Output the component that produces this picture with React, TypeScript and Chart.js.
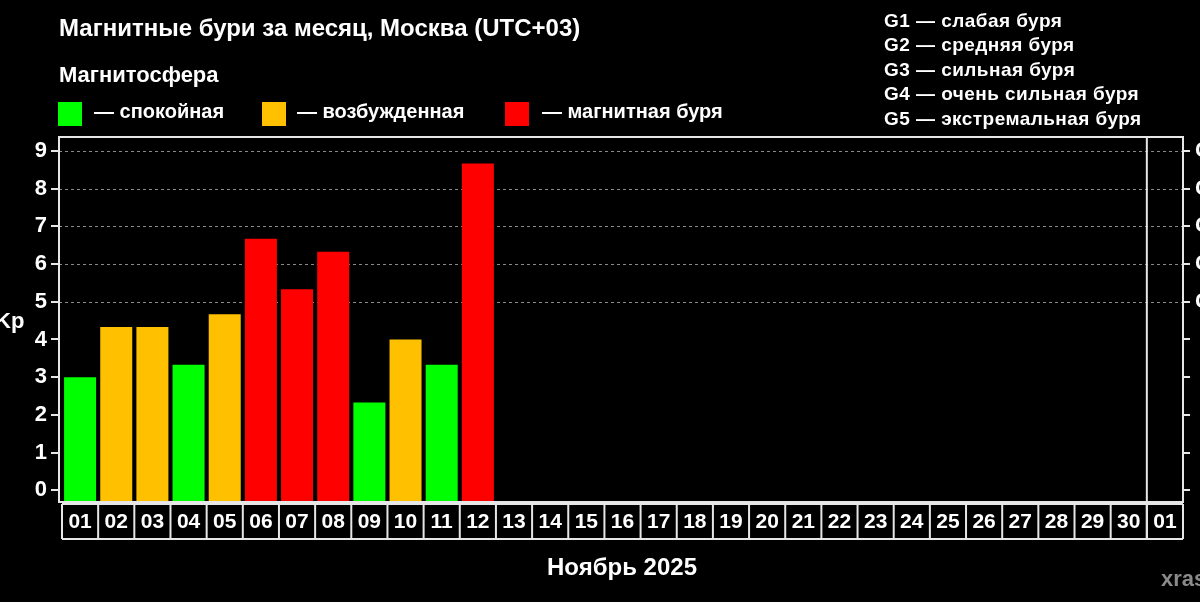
import { useEffect, useRef } from 'react';
import { Chart, registerables } from 'chart.js';

Chart.register(...registerables);

// дни месяца (последний — 1 декабря)
const days = [
  '01', '02', '03', '04', '05', '06', '07', '08', '09', '10',
  '11', '12', '13', '14', '15', '16', '17', '18', '19', '20',
  '21', '22', '23', '24', '25', '26', '27', '28', '29', '30', '01',
];

// максимальный Kp за сутки
const kpMax: (number | null)[] = [
  3.0, 4.33, 4.33, 3.33, 4.67, 6.67, 5.33, 6.33, 2.33, 4.0, 3.33, 8.67,
  null, null, null, null, null, null, null, null, null, null,
  null, null, null, null, null, null, null, null, null,
];

const stormLabels = ['G1', 'G2', 'G3', 'G4', 'G5'];
const stormLegend = [
  'G1 — слабая буря',
  'G2 — средняя буря',
  'G3 — сильная буря',
  'G4 — очень сильная буря',
  'G5 — экстремальная буря',
];

const Y_MIN = -0.31;
const Y_MAX = 9.37;

const GREEN = '#00ff00';
const ORANGE = '#ffc000';
const RED = '#ff0000';

function kpColor(v: number | null) {
  if (v == null) return 'transparent';
  if (v >= 5) return RED;
  if (v >= 4) return ORANGE;
  return GREEN;
}

const FONT = '"Liberation Sans", Arial, sans-serif';

const framePlugin = {
  id: 'framePlugin',
  beforeDatasetsDraw(chart: any) {
    const { ctx, chartArea } = chart;
    const y = chart.scales.y;
    ctx.save();
    ctx.strokeStyle = '#8a8a8a';
    ctx.lineWidth = 1;
    ctx.setLineDash([3, 3]);
    for (let v = 5; v <= 9; v++) {
      const py = Math.round(y.getPixelForValue(v)) + 0.5;
      ctx.beginPath();
      ctx.moveTo(chartArea.left - 3, py);
      ctx.lineTo(chartArea.right, py);
      ctx.stroke();
    }
    ctx.restore();
  },
  afterDraw(chart: any) {
    const { ctx, chartArea } = chart;
    const x = chart.scales.x;
    const y = chart.scales.y;
    const left = chartArea.left - 3;
    const half = (x.getPixelForTick(1) - x.getPixelForTick(0)) / 2;
    const boxTop = chartArea.bottom + 2;
    const boxBottom = chartArea.bottom + 37;
    ctx.save();
    ctx.strokeStyle = '#e6e6e6';
    ctx.lineWidth = 2;
    // рамка графика
    ctx.strokeRect(left, chartArea.top, chartArea.right - left, chartArea.bottom - chartArea.top);
    // засечки слева и справа
    for (let v = 0; v <= 9; v++) {
      const py = Math.round(y.getPixelForValue(v));
      ctx.beginPath();
      ctx.moveTo(left - 8, py);
      ctx.lineTo(left, py);
      ctx.moveTo(chartArea.right, py);
      ctx.lineTo(chartArea.right + 7, py);
      ctx.stroke();
    }
    // ячейки подписей дней
    const first = x.getPixelForTick(0) - half;
    ctx.beginPath();
    ctx.moveTo(first, boxBottom);
    ctx.lineTo(chartArea.right, boxBottom);
    ctx.moveTo(first, boxTop);
    ctx.lineTo(chartArea.right, boxTop);
    for (let i = 0; i <= days.length; i++) {
      const px = i < days.length ? x.getPixelForTick(i) - half : chartArea.right;
      ctx.moveTo(px, boxTop);
      ctx.lineTo(px, boxBottom);
    }
    ctx.stroke();
    // граница месяца
    const sep = x.getPixelForTick(days.length - 1) - half;
    ctx.beginPath();
    ctx.moveTo(sep, chartArea.top);
    ctx.lineTo(sep, boxBottom);
    ctx.stroke();
    ctx.restore();
  },
};

function KpChart() {
  const canvasRef = useRef<HTMLCanvasElement>(null);

  useEffect(() => {
    if (!canvasRef.current) return;
    const chart = new Chart(canvasRef.current, {
      type: 'bar',
      data: {
        labels: days,
        datasets: [
          {
            data: kpMax,
            base: Y_MIN,
            backgroundColor: kpMax.map(kpColor),
            borderWidth: 0,
            categoryPercentage: 1,
            barPercentage: 0.885,
          } as any,
        ],
      },
      options: {
        responsive: true,
        maintainAspectRatio: false,
        animation: false,
        layout: { padding: { top: 137, left: 0, right: 0, bottom: 0 } },
        plugins: {
          legend: { display: false },
          tooltip: { enabled: false },
        },
        scales: {
          x: {
            position: 'bottom',
            grid: { display: false, drawTicks: false },
            border: { display: false },
            ticks: {
              color: '#ffffff',
              font: { family: FONT, size: 21, weight: 'bold' },
              padding: 8,
              autoSkip: false,
              maxRotation: 0,
            },
            afterFit: (scale: any) => {
              scale.height = 100;
            },
          },
          y: {
            position: 'left',
            min: Y_MIN,
            max: Y_MAX,
            grid: { display: false, drawTicks: false },
            border: { display: false },
            ticks: {
              stepSize: 1,
              includeBounds: false,
              color: '#ffffff',
              font: { family: FONT, size: 22, weight: 'bold' },
              padding: 15,
              callback: (v: any) => (Number.isInteger(v) ? String(v) : ''),
            },
            afterFit: (scale: any) => {
              scale.width = 62;
            },
          },
          y1: {
            position: 'right',
            min: Y_MIN,
            max: Y_MAX,
            grid: { display: false, drawTicks: false },
            border: { display: false },
            ticks: {
              stepSize: 1,
              includeBounds: false,
              color: '#ffffff',
              font: { family: FONT, size: 22, weight: 'bold' },
              padding: 12,
              callback: (v: any) => (v >= 5 && v <= 9 ? stormLabels[v - 5] : ''),
            },
            afterFit: (scale: any) => {
              scale.width = 17;
            },
          },
        },
      } as any,
      plugins: [framePlugin],
    });
    return () => chart.destroy();
  }, []);

  return <canvas ref={canvasRef} />;
}

const txt = (extra: React.CSSProperties): React.CSSProperties => ({
  position: 'absolute',
  margin: 0,
  fontFamily: FONT,
  fontWeight: 'bold',
  color: '#ffffff',
  whiteSpace: 'nowrap',
  lineHeight: 1,
  ...extra,
});

const swatch = (left: number, color: string): React.CSSProperties => ({
  position: 'absolute',
  left,
  top: 102,
  width: 24,
  height: 24,
  background: color,
});

export default function App() {
  return (
    <div
      style={{
        position: 'fixed',
        left: 0,
        top: 0,
        width: 1200,
        height: 602,
        background: '#000000',
        overflow: 'hidden',
      }}
    >
      <div style={{ position: 'absolute', left: 0, top: 0, width: 1200, height: 602 }}>
        <KpChart />
      </div>
      <div style={txt({ left: 59, top: 16, fontSize: 24 })}>
        Магнитные бури за месяц, Москва (UTC+03)
      </div>
      <div style={txt({ left: 59, top: 64, fontSize: 22 })}>Магнитосфера</div>
      <div style={swatch(58, GREEN)} />
      <div style={txt({ left: 94, top: 101, fontSize: 20 })}>— спокойная</div>
      <div style={swatch(262, ORANGE)} />
      <div style={txt({ left: 297, top: 101, fontSize: 20 })}>— возбужденная</div>
      <div style={swatch(505, RED)} />
      <div style={txt({ left: 542, top: 101, fontSize: 20 })}>— магнитная буря</div>
      <div
        style={txt({ left: 884, top: 9, fontSize: 19, lineHeight: '24.4px', letterSpacing: '0.45px' })}
      >
        {stormLegend.map((s) => (
          <div key={s}>{s}</div>
        ))}
      </div>
      <div style={txt({ left: -5, top: 310, fontSize: 22 })}>Kp</div>
      <div style={txt({ left: 622, top: 555, fontSize: 24, transform: 'translateX(-50%)' })}>
        Ноябрь 2025
      </div>
      <div style={txt({ left: 1161, top: 568, fontSize: 22, color: '#8a8a8a' })}>xras.ru</div>
    </div>
  );
}
